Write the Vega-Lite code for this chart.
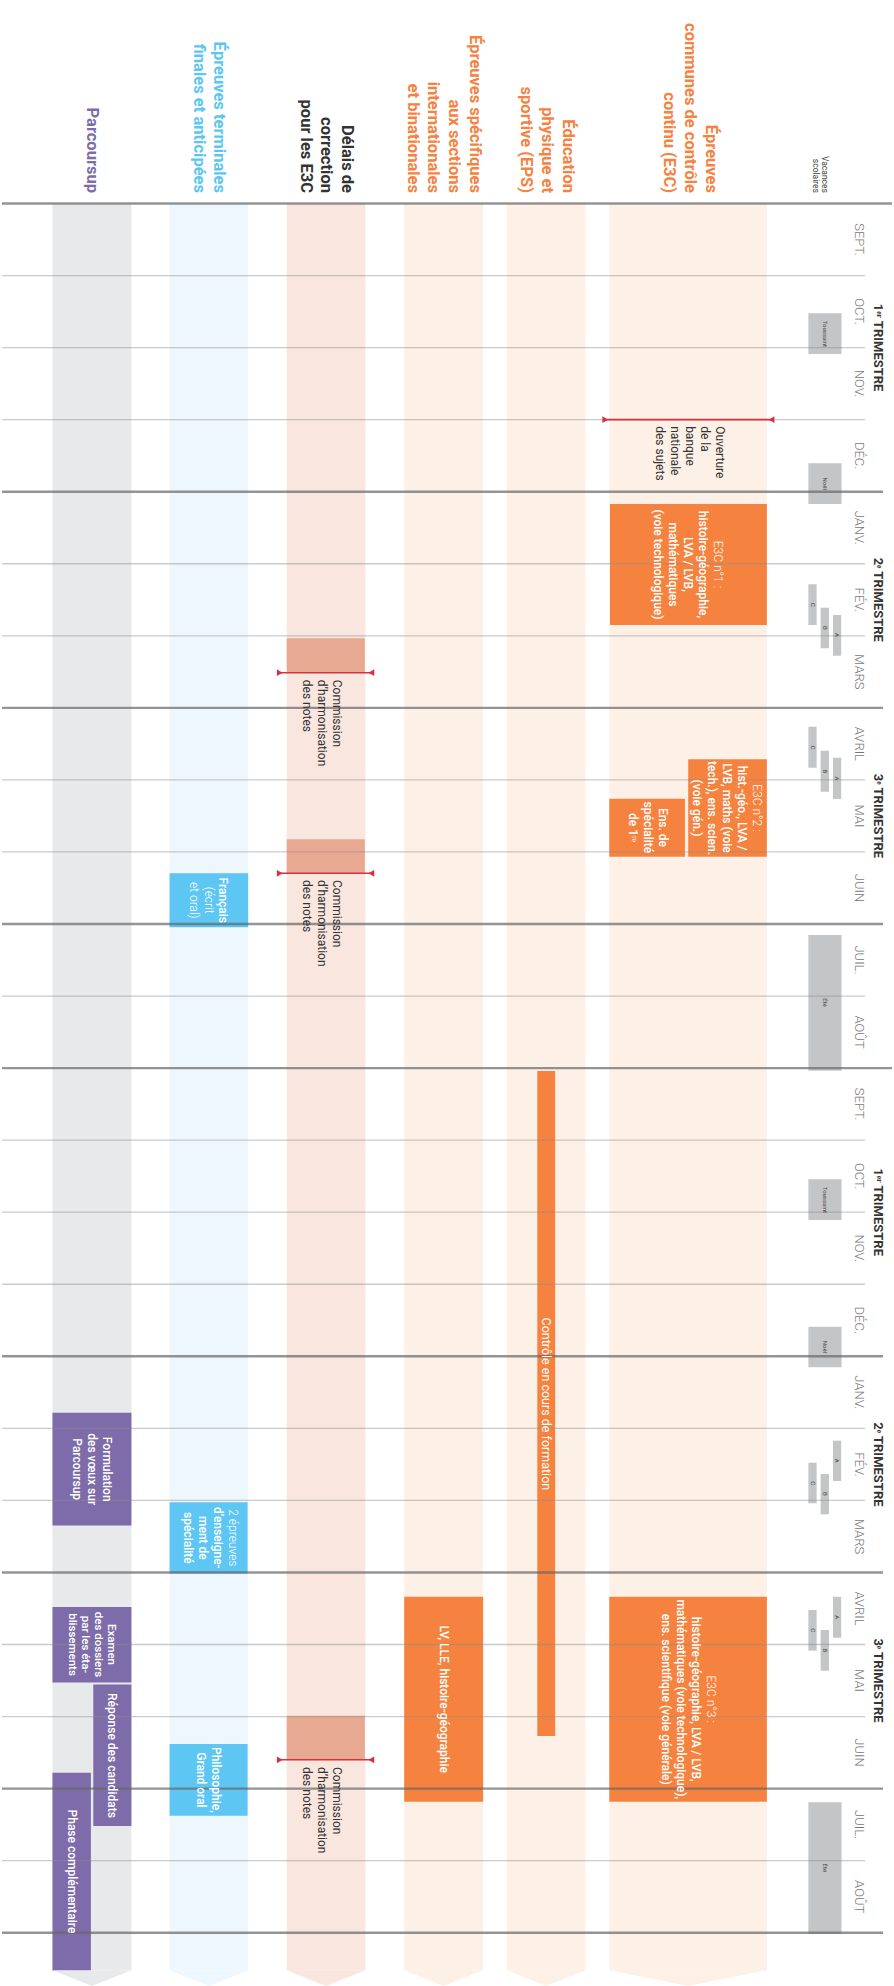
{
  "$schema": "https://vega.github.io/schema/vega-lite/v6.json",
  "width": 894,
  "height": 1986,
  "autosize": {"type": "fit", "contains": "padding"},
  "padding": 0,
  "background": "white",
  "config": {"view": {"stroke": null}, "font": "Roboto"},
  "resolve": {"scale": {"color": "independent"}},
  "datasets": {
    "rects": [
      {"k": "bO", "x0": 610, "x1": 768.3, "t0": 0, "t1": 24.52},
      {"k": "bO", "x0": 507, "x1": 586, "t0": 0, "t1": 24.52},
      {"k": "bO", "x0": 404, "x1": 483.3, "t0": 0, "t1": 24.52},
      {"k": "bS", "x0": 286, "x1": 365, "t0": 0, "t1": 24.52},
      {"k": "bB", "x0": 168.3, "x1": 247.3, "t0": 0, "t1": 24.52},
      {"k": "bG", "x0": 50.7, "x1": 130, "t0": 0, "t1": 24.52},
      {"k": "orange", "x0": 610.7, "x1": 768.3, "t0": 4.171, "t1": 5.85},
      {"k": "orange", "x0": 689.3, "x1": 768.3, "t0": 7.714, "t1": 9.066},
      {"k": "orange", "x0": 610, "x1": 686, "t0": 8.261, "t1": 9.066},
      {"k": "orange", "x0": 610, "x1": 768.3, "t0": 19.337, "t1": 22.182},
      {"k": "orange", "x0": 404, "x1": 483.3, "t0": 19.337, "t1": 22.182},
      {"k": "orange", "x0": 537.7, "x1": 555.7, "t0": 12.04, "t1": 21.27},
      {"k": "salmon", "x0": 286, "x1": 364.5, "t0": 6.035, "t1": 6.512},
      {"k": "salmon", "x0": 286, "x1": 364.5, "t0": 8.824, "t1": 9.296},
      {"k": "salmon", "x0": 286, "x1": 364.5, "t0": 20.99, "t1": 21.6},
      {"k": "blue", "x0": 168.3, "x1": 247.3, "t0": 9.296, "t1": 10.046},
      {"k": "blue", "x0": 168.3, "x1": 246.7, "t0": 18.026, "t1": 19.015},
      {"k": "blue", "x0": 168.3, "x1": 246.7, "t0": 21.381, "t1": 22.376},
      {"k": "purple", "x0": 50.7, "x1": 130, "t0": 16.784, "t1": 18.35},
      {"k": "purple", "x0": 50.7, "x1": 130, "t0": 19.48, "t1": 20.527},
      {"k": "purple", "x0": 91.7, "x1": 130, "t0": 20.554, "t1": 22.519},
      {"k": "purple", "x0": 50.7, "x1": 89.3, "t0": 21.779, "t1": 24.527},
      {"k": "holiday", "x0": 810, "x1": 843.3, "t0": 1.524, "t1": 2.089},
      {"k": "holiday", "x0": 810, "x1": 843.3, "t0": 3.606, "t1": 4.171},
      {"k": "holiday", "x0": 810, "x1": 818.3, "t0": 5.285, "t1": 5.85},
      {"k": "holiday", "x0": 822.3, "x1": 830.7, "t0": 5.61, "t1": 6.173},
      {"k": "holiday", "x0": 834.7, "x1": 843, "t0": 5.711, "t1": 6.276},
      {"k": "holiday", "x0": 810, "x1": 818.3, "t0": 7.262, "t1": 7.831},
      {"k": "holiday", "x0": 822.3, "x1": 830.7, "t0": 7.595, "t1": 8.164},
      {"k": "holiday", "x0": 834.7, "x1": 843, "t0": 7.692, "t1": 8.265},
      {"k": "holiday", "x0": 810, "x1": 843.3, "t0": 10.153, "t1": 12.036},
      {"k": "holiday", "x0": 810, "x1": 843.3, "t0": 13.543, "t1": 14.108},
      {"k": "holiday", "x0": 810, "x1": 843.3, "t0": 15.589, "t1": 16.152},
      {"k": "holiday", "x0": 834.7, "x1": 843, "t0": 17.171, "t1": 17.731},
      {"k": "holiday", "x0": 822.3, "x1": 830.7, "t0": 17.634, "t1": 18.193},
      {"k": "holiday", "x0": 810, "x1": 818.3, "t0": 17.477, "t1": 18.04},
      {"k": "holiday", "x0": 834.7, "x1": 843, "t0": 19.337, "t1": 19.906},
      {"k": "holiday", "x0": 810, "x1": 818.3, "t0": 19.521, "t1": 20.086},
      {"k": "holiday", "x0": 822.3, "x1": 830.7, "t0": 19.799, "t1": 20.364},
      {"k": "holiday", "x0": 810, "x1": 843.3, "t0": 22.19, "t1": 24.018}
    ],
    "chevrons": [
      {"k": "bO", "x": 546.5, "t": 24.52, "w": "narrow"},
      {"k": "bO", "x": 443.65, "t": 24.52, "w": "narrow"},
      {"k": "bS", "x": 325.5, "t": 24.52, "w": "narrow"},
      {"k": "bB", "x": 207.8, "t": 24.52, "w": "narrow"},
      {"k": "bG", "x": 90.35, "t": 24.52, "w": "narrow"},
      {"k": "bO", "x": 689.15, "t": 24.52, "w": "wide"}
    ],
    "gridlines": [
      {"t": 1, "x0": 0, "x1": 867, "w": "thin"},
      {"t": 2, "x0": 0, "x1": 867, "w": "thin"},
      {"t": 3, "x0": 0, "x1": 867, "w": "thin"},
      {"t": 5, "x0": 0, "x1": 867, "w": "thin"},
      {"t": 6, "x0": 0, "x1": 867, "w": "thin"},
      {"t": 8, "x0": 0, "x1": 867, "w": "thin"},
      {"t": 9, "x0": 0, "x1": 867, "w": "thin"},
      {"t": 11, "x0": 0, "x1": 867, "w": "thin"},
      {"t": 13, "x0": 0, "x1": 867, "w": "thin"},
      {"t": 14, "x0": 0, "x1": 867, "w": "thin"},
      {"t": 15, "x0": 0, "x1": 867, "w": "thin"},
      {"t": 17, "x0": 0, "x1": 867, "w": "thin"},
      {"t": 18, "x0": 0, "x1": 867, "w": "thin"},
      {"t": 20, "x0": 0, "x1": 867, "w": "thin"},
      {"t": 21, "x0": 0, "x1": 867, "w": "thin"},
      {"t": 23, "x0": 0, "x1": 867, "w": "thin"},
      {"t": 0, "x0": 0, "x1": 894, "w": "thick"},
      {"t": 4, "x0": 0, "x1": 885, "w": "thick"},
      {"t": 7, "x0": 0, "x1": 885, "w": "thick"},
      {"t": 10, "x0": 0, "x1": 885, "w": "thick"},
      {"t": 12, "x0": 0, "x1": 894, "w": "thick"},
      {"t": 16, "x0": 0, "x1": 885, "w": "thick"},
      {"t": 19, "x0": 0, "x1": 885, "w": "thick"},
      {"t": 22, "x0": 0, "x1": 885, "w": "thick"},
      {"t": 24, "x0": 0, "x1": 885, "w": "thick"}
    ],
    "redlines": [
      {"t": 3.0, "x0": 606, "x1": 773},
      {"t": 6.512, "x0": 279, "x1": 371},
      {"t": 9.296, "x0": 279, "x1": 371},
      {"t": 21.6, "x0": 279, "x1": 371}
    ],
    "headers": [
      {"g": "Parcoursup", "x": 90, "t": -0.146, "s": "Parcoursup"},
      {"g": "Terminales", "x": 218.3, "t": -0.146, "s": "Épreuves terminales\nfinales et anticipées"},
      {"g": "Délais", "x": 346.7, "t": -0.146, "s": "Délais de\ncorrection\npour les E3C"},
      {"g": "Spécifiques", "x": 475, "t": -0.146, "s": "Épreuves spécifiques\naux sections\ninternationales\net binationales"},
      {"g": "EPS", "x": 568.3, "t": -0.146, "s": "Éducation\nphysique et\nsportive (EPS)"},
      {"g": "E3C", "x": 711.7, "t": -0.146, "s": "Épreuves\ncommunes de contrôle\ncontinu (E3C)"}
    ],
    "vacances": [
      {"x": 826.7, "t": -0.146, "s": "Vacances\nscolaires"}
    ],
    "months": [
      {"t": 0.5, "s": "SEPT."}, {"t": 1.5, "s": "OCT."}, {"t": 2.5, "s": "NOV."}, {"t": 3.5, "s": "DÉC."},
      {"t": 4.5, "s": "JANV."}, {"t": 5.5, "s": "FÉV."}, {"t": 6.5, "s": "MARS"}, {"t": 7.5, "s": "AVRIL"},
      {"t": 8.5, "s": "MAI"}, {"t": 9.5, "s": "JUIN"}, {"t": 10.5, "s": "JUIL."}, {"t": 11.5, "s": "AOÛT"},
      {"t": 12.5, "s": "SEPT."}, {"t": 13.5, "s": "OCT."}, {"t": 14.5, "s": "NOV."}, {"t": 15.5, "s": "DÉC."},
      {"t": 16.5, "s": "JANV."}, {"t": 17.5, "s": "FÉV."}, {"t": 18.5, "s": "MARS"}, {"t": 19.5, "s": "AVRIL"},
      {"t": 20.5, "s": "MAI"}, {"t": 21.5, "s": "JUIN"}, {"t": 22.5, "s": "JUIL."}, {"t": 23.5, "s": "AOÛT"}
    ],
    "trimestres": [
      {"t": 2, "s": "1ᵉʳ TRIMESTRE"}, {"t": 5.5, "s": "2ᵉ TRIMESTRE"}, {"t": 8.5, "s": "3ᵉ TRIMESTRE"},
      {"t": 14, "s": "1ᵉʳ TRIMESTRE"}, {"t": 17.5, "s": "2ᵉ TRIMESTRE"}, {"t": 20.5, "s": "3ᵉ TRIMESTRE"}
    ],
    "boxlabels": [
      {"x": 704, "t": 5.01, "s": "histoire-géographie,\nLVA / LVB,\nmathématiques\n(voie technologique)"},
      {"x": 743, "t": 8.39, "s": "hist.-géo., LVA /\nLVB, maths (voie\ntech.), ens. scien.\n(voie gén.)"},
      {"x": 663.5, "t": 8.66, "s": "Ens. de\nspécialité\nde 1ʳᵉ"},
      {"x": 697.5, "t": 20.76, "s": "histoire-géographie, LVA / LVB,\nmathématiques (voie technologique),\nens. scientifique (voie générale)"},
      {"x": 443.7, "t": 20.76, "s": "LV, LLE, histoire-géographie"},
      {"x": 222, "t": 9.67, "s": "Français"},
      {"x": 216.7, "t": 18.52, "s": "d’enseigne-\nment de\nspécialité"},
      {"x": 215, "t": 21.88, "s": "Philosophie,\nGrand oral"},
      {"x": 105.8, "t": 17.567, "s": "Formulation\ndes vœux sur\nParcoursup"},
      {"x": 110.8, "t": 21.54, "s": "Réponse des candidats"},
      {"x": 70, "t": 23.15, "s": "Phase complémentaire"}
    ],
    "boxtitles": [
      {"x": 719.5, "t": 5.01, "s": "E3C n°1 :"},
      {"x": 758.3, "t": 8.39, "s": "E3C n°2 :"},
      {"x": 712.5, "t": 20.76, "s": "E3C n°3 :"},
      {"x": 208, "t": 9.67, "s": "(écrit\net oral)"},
      {"x": 231.7, "t": 18.52, "s": "2 épreuves"}
    ],
    "compactlabels": [
      {"x": 109.8, "t": 20.0, "s": "Examen\ndes dossiers\npar les éta-\nblissements"}
    ],
    "epslabel": [
      {"x": 546.7, "t": 16.66, "s": "Contrôle en cours de formation"}
    ],
    "annotations": [
      {"x": 721.5, "t": 3.09, "s": "Ouverture\nde la\nbanque\nnationale\ndes sujets"},
      {"x": 337, "t": 6.61, "s": "Commission\nd’harmonisation\ndes notes"},
      {"x": 337, "t": 9.39, "s": "Commission\nd’harmonisation\ndes notes"},
      {"x": 337, "t": 21.7, "s": "Commission\nd’harmonisation\ndes notes"}
    ],
    "holidaylabels": [
      {"x": 826.7, "t": 1.81, "s": "Toussaint"},
      {"x": 826.7, "t": 3.89, "s": "Noël"},
      {"x": 814.2, "t": 5.57, "s": "C"},
      {"x": 826.5, "t": 5.89, "s": "B"},
      {"x": 838.9, "t": 5.99, "s": "A"},
      {"x": 814.2, "t": 7.55, "s": "C"},
      {"x": 826.5, "t": 7.88, "s": "B"},
      {"x": 838.9, "t": 7.98, "s": "A"},
      {"x": 826.7, "t": 11.09, "s": "Été"},
      {"x": 826.7, "t": 13.83, "s": "Toussaint"},
      {"x": 826.7, "t": 15.87, "s": "Noël"},
      {"x": 838.9, "t": 17.45, "s": "A"},
      {"x": 826.5, "t": 17.91, "s": "B"},
      {"x": 814.2, "t": 17.76, "s": "C"},
      {"x": 838.9, "t": 19.62, "s": "A"},
      {"x": 814.2, "t": 19.8, "s": "C"},
      {"x": 826.5, "t": 20.08, "s": "B"},
      {"x": 826.7, "t": 23.1, "s": "Été"}
    ]
  },
  "layer": [
    {
      "data": {"name": "rects"},
      "mark": {"type": "rect"},
      "encoding": {
        "x": {"field": "x0", "type": "quantitative", "scale": {"domain": [0, 894], "nice": false, "zero": false}, "axis": null},
        "x2": {"field": "x1"},
        "y": {"field": "t0", "type": "quantitative", "scale": {"domain": [-2.8244, 24.7398], "nice": false, "zero": false, "reverse": true}, "axis": null},
        "y2": {"field": "t1"},
        "color": {"field": "k", "type": "nominal", "legend": null,
          "scale": {"domain": ["bO", "bS", "bB", "bG", "orange", "salmon", "blue", "purple", "holiday"],
                    "range": ["#fdf0e6", "#f8e6df", "#eef7fd", "#e8e9eb", "#f5833f", "#e8a993", "#5dc6f2", "#7d6ca9", "#c4c5c7"]}}
      }
    },
    {
      "data": {"name": "chevrons"},
      "transform": [{"filter": "datum.w == 'narrow'"}],
      "mark": {"type": "point", "filled": true, "opacity": 1, "shape": "M-1,0L1,0L0,0.4Z", "size": 6241},
      "encoding": {
        "x": {"field": "x", "type": "quantitative", "scale": {"domain": [0, 894], "nice": false, "zero": false}, "axis": null},
        "y": {"field": "t", "type": "quantitative", "scale": {"domain": [-2.8244, 24.7398], "nice": false, "zero": false, "reverse": true}, "axis": null},
        "color": {"field": "k", "type": "nominal", "legend": null,
          "scale": {"domain": ["bO", "bS", "bB", "bG"], "range": ["#fdf0e6", "#f8e6df", "#eef7fd", "#e8e9eb"]}}
      }
    },
    {
      "data": {"name": "chevrons"},
      "transform": [{"filter": "datum.w == 'wide'"}],
      "mark": {"type": "point", "filled": true, "opacity": 1, "shape": "M-1,0L1,0L0,0.2Z", "size": 24964, "color": "#fdf0e6"},
      "encoding": {
        "x": {"field": "x", "type": "quantitative", "scale": {"domain": [0, 894], "nice": false, "zero": false}, "axis": null},
        "y": {"field": "t", "type": "quantitative", "scale": {"domain": [-2.8244, 24.7398], "nice": false, "zero": false, "reverse": true}, "axis": null}
      }
    },
    {
      "data": {"name": "gridlines"},
      "transform": [{"filter": "datum.w == 'thin'"}],
      "mark": {"type": "rule", "color": "#8c8c8c", "opacity": 0.45, "strokeWidth": 1.3},
      "encoding": {
        "x": {"field": "x0", "type": "quantitative", "scale": {"domain": [0, 894], "nice": false, "zero": false}, "axis": null},
        "x2": {"field": "x1"},
        "y": {"field": "t", "type": "quantitative", "scale": {"domain": [-2.8244, 24.7398], "nice": false, "zero": false, "reverse": true}, "axis": null}
      }
    },
    {
      "data": {"name": "gridlines"},
      "transform": [{"filter": "datum.w == 'thick'"}],
      "mark": {"type": "rule", "color": "#666666", "opacity": 0.7, "strokeWidth": 2.4},
      "encoding": {
        "x": {"field": "x0", "type": "quantitative", "scale": {"domain": [0, 894], "nice": false, "zero": false}, "axis": null},
        "x2": {"field": "x1"},
        "y": {"field": "t", "type": "quantitative", "scale": {"domain": [-2.8244, 24.7398], "nice": false, "zero": false, "reverse": true}, "axis": null}
      }
    },
    {
      "data": {"name": "redlines"},
      "mark": {"type": "rule", "color": "#d7313e", "strokeWidth": 1.6},
      "encoding": {
        "x": {"field": "x0", "type": "quantitative", "scale": {"domain": [0, 894], "nice": false, "zero": false}, "axis": null},
        "x2": {"field": "x1"},
        "y": {"field": "t", "type": "quantitative", "scale": {"domain": [-2.8244, 24.7398], "nice": false, "zero": false, "reverse": true}, "axis": null}
      }
    },
    {
      "data": {"name": "redlines"},
      "mark": {"type": "point", "filled": true, "opacity": 1, "shape": "triangle-right", "size": 45, "color": "#d7313e"},
      "encoding": {
        "x": {"field": "x0", "type": "quantitative", "scale": {"domain": [0, 894], "nice": false, "zero": false}, "axis": null},
        "y": {"field": "t", "type": "quantitative", "scale": {"domain": [-2.8244, 24.7398], "nice": false, "zero": false, "reverse": true}, "axis": null}
      }
    },
    {
      "data": {"name": "redlines"},
      "mark": {"type": "point", "filled": true, "opacity": 1, "shape": "triangle-left", "size": 45, "color": "#d7313e"},
      "encoding": {
        "x": {"field": "x1", "type": "quantitative", "scale": {"domain": [0, 894], "nice": false, "zero": false}, "axis": null},
        "y": {"field": "t", "type": "quantitative", "scale": {"domain": [-2.8244, 24.7398], "nice": false, "zero": false, "reverse": true}, "axis": null}
      }
    },
    {
      "data": {"name": "headers"},
      "mark": {"type": "text", "angle": 90, "align": "right", "baseline": "middle", "font": "Roboto", "fontSize": 16.5, "fontWeight": "bold", "lineBreak": "\n", "lineHeight": 20.7},
      "encoding": {
        "x": {"field": "x", "type": "quantitative", "scale": {"domain": [0, 894], "nice": false, "zero": false}, "axis": null},
        "y": {"field": "t", "type": "quantitative", "scale": {"domain": [-2.8244, 24.7398], "nice": false, "zero": false, "reverse": true}, "axis": null},
        "text": {"field": "s", "type": "nominal"},
        "color": {"field": "g", "type": "nominal", "legend": null,
          "scale": {"domain": ["Parcoursup", "Terminales", "Délais", "Spécifiques", "EPS", "E3C"],
                    "range": ["#7d6ca9", "#5cc6f0", "#333333", "#f5833f", "#f5833f", "#f5833f"]}}
      }
    },
    {
      "data": {"name": "vacances"},
      "mark": {"type": "text", "angle": 90, "align": "right", "baseline": "middle", "font": "Roboto", "fontSize": 8.5, "lineBreak": "\n", "lineHeight": 9, "color": "#444444"},
      "encoding": {
        "x": {"field": "x", "type": "quantitative", "scale": {"domain": [0, 894], "nice": false, "zero": false}, "axis": null},
        "y": {"field": "t", "type": "quantitative", "scale": {"domain": [-2.8244, 24.7398], "nice": false, "zero": false, "reverse": true}, "axis": null},
        "text": {"field": "s", "type": "nominal"}
      }
    },
    {
      "data": {"name": "months"},
      "mark": {"type": "text", "angle": 90, "align": "center", "baseline": "middle", "font": "Roboto", "fontSize": 13, "fontWeight": 300, "color": "#777777", "x": 857},
      "encoding": {
        "y": {"field": "t", "type": "quantitative", "scale": {"domain": [-2.8244, 24.7398], "nice": false, "zero": false, "reverse": true}, "axis": null},
        "text": {"field": "s", "type": "nominal"}
      }
    },
    {
      "data": {"name": "trimestres"},
      "mark": {"type": "text", "angle": 90, "align": "center", "baseline": "middle", "font": "Roboto", "fontSize": 13, "fontWeight": "bold", "color": "#333333", "x": 875.5},
      "encoding": {
        "y": {"field": "t", "type": "quantitative", "scale": {"domain": [-2.8244, 24.7398], "nice": false, "zero": false, "reverse": true}, "axis": null},
        "text": {"field": "s", "type": "nominal"}
      }
    },
    {
      "data": {"name": "boxlabels"},
      "mark": {"type": "text", "angle": 90, "align": "center", "baseline": "middle", "font": "Roboto", "fontSize": 12, "fontWeight": 500, "lineBreak": "\n", "lineHeight": 15, "color": "white"},
      "encoding": {
        "x": {"field": "x", "type": "quantitative", "scale": {"domain": [0, 894], "nice": false, "zero": false}, "axis": null},
        "y": {"field": "t", "type": "quantitative", "scale": {"domain": [-2.8244, 24.7398], "nice": false, "zero": false, "reverse": true}, "axis": null},
        "text": {"field": "s", "type": "nominal"}
      }
    },
    {
      "data": {"name": "boxtitles"},
      "mark": {"type": "text", "angle": 90, "align": "center", "baseline": "middle", "font": "Roboto", "fontSize": 12, "fontWeight": 300, "lineBreak": "\n", "lineHeight": 15, "color": "white"},
      "encoding": {
        "x": {"field": "x", "type": "quantitative", "scale": {"domain": [0, 894], "nice": false, "zero": false}, "axis": null},
        "y": {"field": "t", "type": "quantitative", "scale": {"domain": [-2.8244, 24.7398], "nice": false, "zero": false, "reverse": true}, "axis": null},
        "text": {"field": "s", "type": "nominal"}
      }
    },
    {
      "data": {"name": "compactlabels"},
      "mark": {"type": "text", "angle": 90, "align": "center", "baseline": "middle", "font": "Roboto", "fontSize": 11.5, "fontWeight": 500, "lineBreak": "\n", "lineHeight": 13, "color": "white"},
      "encoding": {
        "x": {"field": "x", "type": "quantitative", "scale": {"domain": [0, 894], "nice": false, "zero": false}, "axis": null},
        "y": {"field": "t", "type": "quantitative", "scale": {"domain": [-2.8244, 24.7398], "nice": false, "zero": false, "reverse": true}, "axis": null},
        "text": {"field": "s", "type": "nominal"}
      }
    },
    {
      "data": {"name": "epslabel"},
      "mark": {"type": "text", "angle": 90, "align": "center", "baseline": "middle", "font": "Roboto", "fontSize": 12.5, "fontWeight": 400, "color": "white"},
      "encoding": {
        "x": {"field": "x", "type": "quantitative", "scale": {"domain": [0, 894], "nice": false, "zero": false}, "axis": null},
        "y": {"field": "t", "type": "quantitative", "scale": {"domain": [-2.8244, 24.7398], "nice": false, "zero": false, "reverse": true}, "axis": null},
        "text": {"field": "s", "type": "nominal"}
      }
    },
    {
      "data": {"name": "annotations"},
      "mark": {"type": "text", "angle": 90, "align": "left", "baseline": "middle", "font": "Roboto", "fontSize": 12, "fontWeight": 400, "lineBreak": "\n", "lineHeight": 15, "color": "#333333"},
      "encoding": {
        "x": {"field": "x", "type": "quantitative", "scale": {"domain": [0, 894], "nice": false, "zero": false}, "axis": null},
        "y": {"field": "t", "type": "quantitative", "scale": {"domain": [-2.8244, 24.7398], "nice": false, "zero": false, "reverse": true}, "axis": null},
        "text": {"field": "s", "type": "nominal"}
      }
    },
    {
      "data": {"name": "holidaylabels"},
      "mark": {"type": "text", "angle": 90, "align": "center", "baseline": "middle", "font": "Roboto", "fontSize": 6, "color": "#444444"},
      "encoding": {
        "x": {"field": "x", "type": "quantitative", "scale": {"domain": [0, 894], "nice": false, "zero": false}, "axis": null},
        "y": {"field": "t", "type": "quantitative", "scale": {"domain": [-2.8244, 24.7398], "nice": false, "zero": false, "reverse": true}, "axis": null},
        "text": {"field": "s", "type": "nominal"}
      }
    }
  ]
}
